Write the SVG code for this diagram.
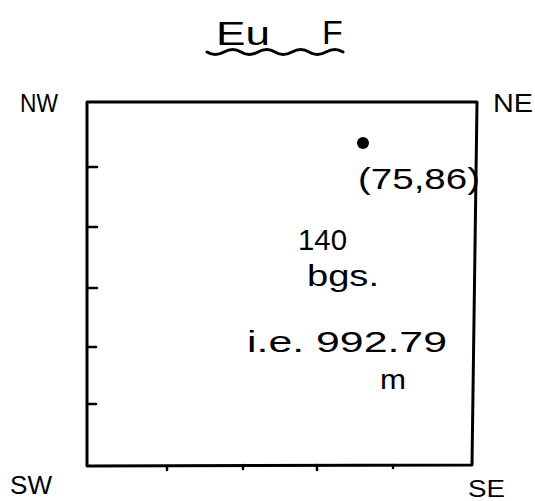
<svg xmlns="http://www.w3.org/2000/svg" width="535" height="501" viewBox="0 0 535 501">
<style>
  .t { font-family: "Liberation Sans", "DejaVu Sans", sans-serif; fill: #000; }
  .ln { stroke: #000; fill: none; stroke-linecap: round; stroke-linejoin: round; }
</style>
<rect width="535" height="501" fill="#fff"/>
<g id="title">
  <text class="t" x="216" y="45" font-size="34" textLength="54" lengthAdjust="spacingAndGlyphs">Eu</text>
  <text class="t" x="322" y="44" font-size="34">F</text>
  <path class="ln" stroke-width="3" d="M207,52 q8,5 17,0 t17,0 t17,0 t17,0 t17,0 t17,0 t17,0 t17,0"/>
</g>
<g id="square">
  <path class="ln" stroke-width="3" d="M87,102 L477,102 L472,465 L87,466 Z"/>
</g>
<g id="connectors">
  <g class="ln" stroke-width="2.5">
    <line x1="87" y1="167" x2="97" y2="167"/>
    <line x1="87" y1="227" x2="97" y2="227"/>
    <line x1="87" y1="288" x2="97" y2="288"/>
    <line x1="87" y1="347" x2="96" y2="347"/>
    <line x1="87" y1="404" x2="96" y2="404"/>
    <line x1="167" y1="466" x2="167" y2="470"/>
    <line x1="243" y1="465" x2="243" y2="469"/>
    <line x1="317" y1="465" x2="317" y2="470"/>
    <line x1="393" y1="465" x2="393" y2="468"/>
  </g>
</g>
<g id="corner-nw"><text class="t" x="20" y="112" font-size="25" textLength="38" lengthAdjust="spacingAndGlyphs">NW</text></g>
<g id="corner-ne"><text class="t" x="493" y="112" font-size="25" textLength="40" lengthAdjust="spacingAndGlyphs">NE</text></g>
<g id="corner-sw"><text class="t" x="10" y="494" font-size="25" textLength="42" lengthAdjust="spacingAndGlyphs">SW</text></g>
<g id="corner-se"><text class="t" x="468" y="497" font-size="24" textLength="37" lengthAdjust="spacingAndGlyphs">SE</text></g>
<g id="point">
  <circle cx="363" cy="143" r="6" fill="#000"/>
  <text class="t" x="358" y="189" font-size="30" textLength="122" lengthAdjust="spacingAndGlyphs">(75,86)</text>
</g>
<g id="depth">
  <text class="t" x="298" y="250" font-size="30" textLength="49" lengthAdjust="spacingAndGlyphs">140</text>
  <text class="t" x="307" y="286" font-size="30" textLength="72" lengthAdjust="spacingAndGlyphs">bgs.</text>
  <text class="t" x="247" y="352" font-size="30" textLength="200" lengthAdjust="spacingAndGlyphs">i.e. 992.79</text>
  <text class="t" x="380" y="389" font-size="28" textLength="26" lengthAdjust="spacingAndGlyphs">m</text>
</g>
</svg>
